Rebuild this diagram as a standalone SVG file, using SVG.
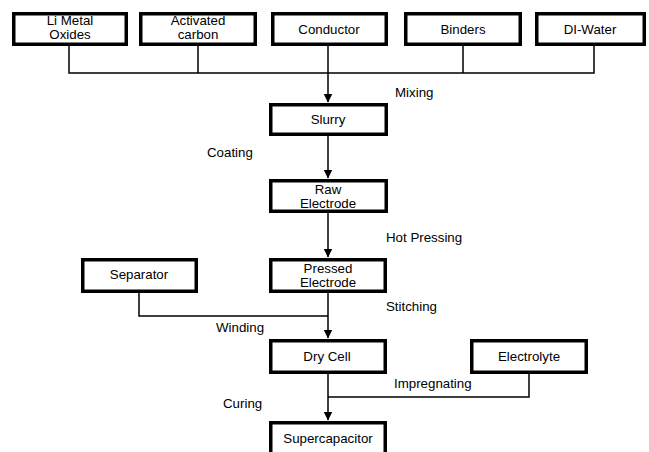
<svg xmlns="http://www.w3.org/2000/svg" width="649" height="452" viewBox="0 0 649 452">
<style>
.box{fill:#fff;stroke:#000;stroke-width:3.5}
.t{font-family:"Liberation Sans",Arial,sans-serif;font-size:13.3px;fill:#000}
.c{text-anchor:middle}
.ln{fill:none;stroke:#000;stroke-width:1.5}
</style>
<defs>
<marker id="ah" markerWidth="9" markerHeight="10" refX="8.5" refY="4.5" orient="auto" markerUnits="userSpaceOnUse" viewBox="0 0 9 9">
<path d="M0,0 L9,4.5 L0,9 Z" fill="#000"/>
</marker>
</defs>
<rect width="649" height="452" fill="#fff"/>
<g id="connectors">
<path class="ln" d="M69,46 V73 H594 V46 M198,46 V73 M463,46 V73"/>
<path class="ln" d="M328,46 V102" marker-end="url(#ah)"/>
<path class="ln" d="M328,136 V178" marker-end="url(#ah)"/>
<path class="ln" d="M328,213 V257" marker-end="url(#ah)"/>
<path class="ln" d="M328,293 V338" marker-end="url(#ah)"/>
<path class="ln" d="M139,293 V316 H328"/>
<path class="ln" d="M328,374 V420" marker-end="url(#ah)"/>
<path class="ln" d="M529,374 V397 H328"/>
</g>
<g id="labels">
<text class="t" x="395" y="97">Mixing</text>
<text class="t" x="207" y="157">Coating</text>
<text class="t" x="386" y="241.5">Hot Pressing</text>
<text class="t" x="386" y="311">Stitching</text>
<text class="t" x="216" y="332">Winding</text>
<text class="t" x="394" y="388">Impregnating</text>
<text class="t" x="223" y="408">Curing</text>
</g>
<g id="li"><rect class="box" x="13.75" y="13.75" width="112.5" height="30.5"/><text class="t c" x="70" y="25">Li Metal</text><text class="t c" x="70" y="39">Oxides</text></g>
<g id="carbon"><rect class="box" x="140.75" y="13.75" width="114.5" height="30.5"/><text class="t c" x="198" y="25">Activated</text><text class="t c" x="198" y="39">carbon</text></g>
<g id="conductor"><rect class="box" x="272.75" y="13.75" width="113.5" height="30.5"/><text class="t c" x="329" y="34">Conductor</text></g>
<g id="binders"><rect class="box" x="405.75" y="13.75" width="114.5" height="30.5"/><text class="t c" x="463" y="34">Binders</text></g>
<g id="diwater"><rect class="box" x="536.75" y="13.75" width="107.5" height="30.5"/><text class="t c" x="590" y="34">DI-Water</text></g>
<g id="slurry"><rect class="box" x="270.75" y="104.75" width="115.5" height="29.5"/><text class="t c" x="328" y="124">Slurry</text></g>
<g id="raw"><rect class="box" x="270.75" y="180.75" width="115.5" height="30.5"/><text class="t c" x="328" y="194">Raw</text><text class="t c" x="328" y="208">Electrode</text></g>
<g id="separator"><rect class="box" x="82.75" y="259.75" width="113.5" height="31.5"/><text class="t c" x="139" y="279">Separator</text></g>
<g id="pressed"><rect class="box" x="270.75" y="259.75" width="114.5" height="31.5"/><text class="t c" x="328" y="273">Pressed</text><text class="t c" x="328" y="287">Electrode</text></g>
<g id="drycell"><rect class="box" x="270.75" y="340.75" width="114.5" height="31.5"/><text class="t c" x="327" y="361">Dry Cell</text></g>
<g id="electrolyte"><rect class="box" x="471.75" y="340.75" width="114.5" height="31.5"/><text class="t c" x="529" y="361">Electrolyte</text></g>
<g id="supercap"><rect class="box" x="270.75" y="422.75" width="114.5" height="40"/><text class="t c" x="328" y="443">Supercapacitor</text></g>
</svg>
